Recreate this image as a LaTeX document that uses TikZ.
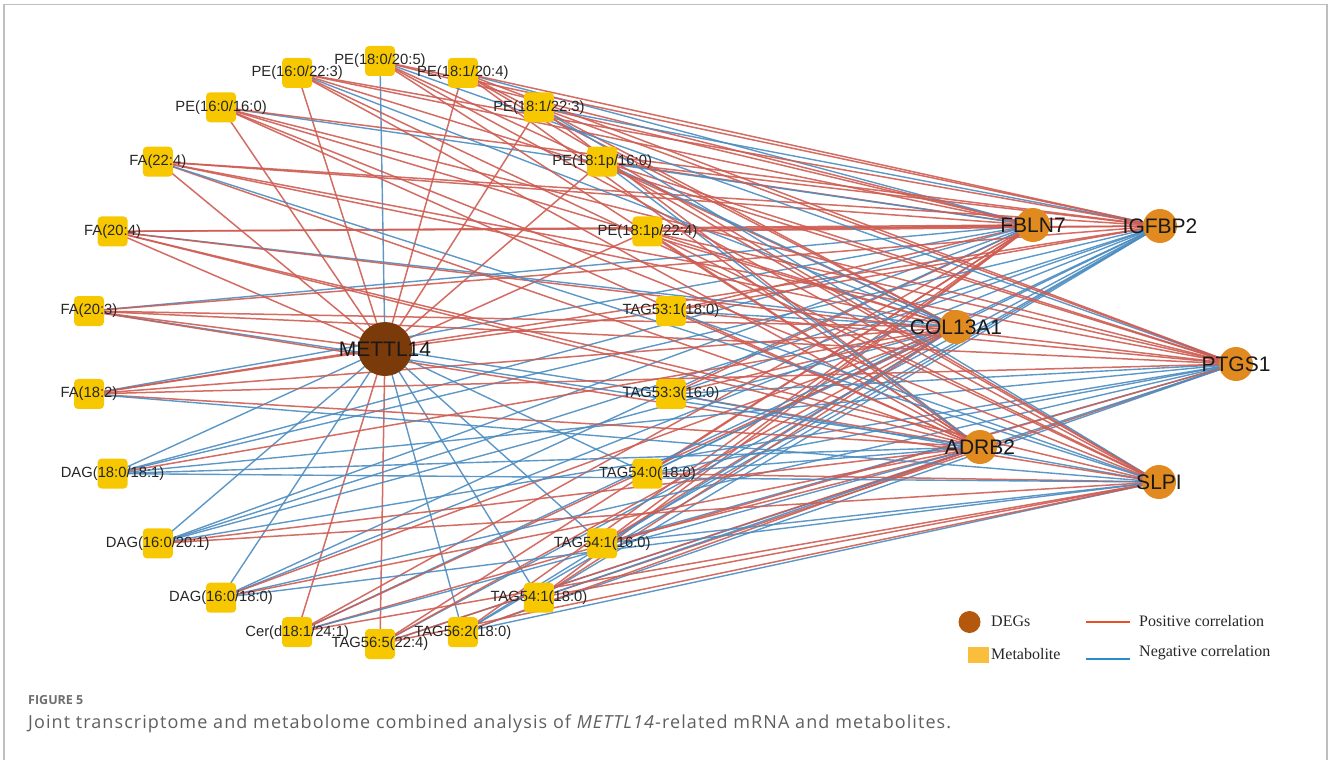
\documentclass[tikz,border=0pt]{standalone}
\usepackage{fontspec}
\newfontfamily\labfont{Liberation Sans}
\newfontfamily\legfont{Liberation Serif}
\newfontfamily\capfont[LetterSpace=6]{Open Sans}
\newfontfamily\figfont{Open Sans}
\usetikzlibrary{backgrounds}
\definecolor{metab}{RGB}{247,200,0}
\definecolor{gene}{RGB}{224,138,32}
\definecolor{hub}{RGB}{122,58,10}
\definecolor{posc}{RGB}{206,92,82}
\definecolor{negc}{RGB}{74,140,192}
\definecolor{legdeg}{RGB}{180,88,14}
\definecolor{legmet}{RGB}{250,190,60}
\definecolor{legpos}{RGB}{232,80,40}
\definecolor{legneg}{RGB}{40,138,200}
\definecolor{framec}{RGB}{190,190,190}
\definecolor{capc}{RGB}{95,95,95}
\definecolor{figc}{RGB}{110,110,110}
\begin{document}
\begin{tikzpicture}[x=1pt,y=-1pt,
 metnode/.style={fill=metab, draw=none, rounded corners=4pt, minimum size=30pt, inner sep=0pt},
 genenode/.style={circle, fill=gene, minimum size=34pt, inner sep=0pt},
 hubnode/.style={circle, fill=hub, minimum size=54pt, inner sep=0pt},
 metlab/.style={font=\labfont\fontsize{14.8}{16}\selectfont, text=black!85, inner sep=0pt},
 genelab/.style={font=\labfont\fontsize{21}{24}\selectfont, text=black!90, inner sep=0pt},
 lr/.style={draw=posc, line width=1.5pt, opacity=0.9},
 lb/.style={draw=negc, line width=1.4pt, opacity=0.9},
 legtext/.style={font=\legfont\fontsize{16}{18}\selectfont, text=black!85, inner sep=0pt, anchor=west},
]
\useasboundingbox (0,0) rectangle (1331,760);
% frame
\draw[framec, line width=1.5pt] (4,760) -- (4,4.5) -- (1327,4.5) -- (1327,760);

% metabolite positions on a ring
\foreach \k in {0,...,21}
  \coordinate (p\k) at ({380+294*sin(\k*360/22)},{352.5-291.5*cos(\k*360/22)});

\node[metnode, label={[metlab]center:{PE(18:0/20:5)}}] (m0) at (p0) {};
\node[metnode, label={[metlab]center:{PE(18:1/20:4)}}] (m1) at (p1) {};
\node[metnode, label={[metlab]center:{PE(18:1/22:3)}}] (m2) at (p2) {};
\node[metnode, label={[metlab]center:{PE(18:1p/16:0)}}] (m3) at (p3) {};
\node[metnode, label={[metlab]center:{PE(18:1p/22:4)}}] (m4) at (p4) {};
\node[metnode, label={[metlab]center:{TAG53:1(18:0)}}] (m5) at (p5) {};
\node[metnode, label={[metlab]center:{TAG53:3(16:0)}}] (m6) at (p6) {};
\node[metnode, label={[metlab]center:{TAG54:0(18:0)}}] (m7) at (p7) {};
\node[metnode, label={[metlab]center:{TAG54:1(16:0)}}] (m8) at (p8) {};
\node[metnode, label={[metlab]center:{TAG54:1(18:0)}}] (m9) at (p9) {};
\node[metnode, label={[metlab]center:{TAG56:2(18:0)}}] (m10) at (p10) {};
\node[metnode, label={[metlab]center:{TAG56:5(22:4)}}] (m11) at (p11) {};
\node[metnode, label={[metlab]center:{Cer(d18:1/24:1)}}] (m12) at (p12) {};
\node[metnode, label={[metlab]center:{DAG(16:0/18:0)}}] (m13) at (p13) {};
\node[metnode, label={[metlab]center:{DAG(16:0/20:1)}}] (m14) at (p14) {};
\node[metnode, label={[metlab]center:{DAG(18:0/18:1)}}] (m15) at (p15) {};
\node[metnode, label={[metlab]center:{FA(18:2)}}] (m16) at (p16) {};
\node[metnode, label={[metlab]center:{FA(20:3)}}] (m17) at (p17) {};
\node[metnode, label={[metlab]center:{FA(20:4)}}] (m18) at (p18) {};
\node[metnode, label={[metlab]center:{FA(22:4)}}] (m19) at (p19) {};
\node[metnode, label={[metlab]center:{PE(16:0/16:0)}}] (m20) at (p20) {};
\node[metnode, label={[metlab]center:{PE(16:0/22:3)}}] (m21) at (p21) {};

% genes
\node[hubnode, label={[genelab]center:METTL14}] (hb) at (385,349) {};
\node[genenode, label={[genelab]center:FBLN7}] (fb) at (1033,225) {};
\node[genenode, label={[genelab]center:IGFBP2}] (ig) at (1160,226) {};
\node[genenode, label={[genelab]center:COL13A1}] (co) at (956,327) {};
\node[genenode, label={[genelab]center:PTGS1}] (pt) at (1236,364) {};
\node[genenode, label={[genelab]center:ADRB2}] (ad) at (980,447) {};
\node[genenode, label={[genelab]center:SLPI}] (sl) at (1159,482) {};

% edges
\begin{pgfonlayer}{background}
\foreach \g/\lst in {
 hb/{lb,lr,lr,lr,lr,lr,lb,lb,lb,lb,lb,lr,lr,lb,lb,lb,lr,lr,lr,lr,lr,lr},
 fb/{lr,lb,lr,lr,lr,lr,lr,lr,lr,lr,lr,lr,lr,lb,lb,lb,lb,lb,lr,lr,lb,lr},
 ig/{lr,lr,lb,lr,lr,lr,lb,lb,lb,lb,lb,lb,lb,lb,lb,lb,lr,lr,lr,lr,lr,lr},
 co/{lr,lr,lr,lb,lr,lb,lr,lb,lr,lr,lb,lr,lr,lr,lb,lr,lr,lr,lb,lr,lr,lb},
 pt/{lb,lr,lr,lr,lr,lr,lb,lb,lb,lr,lb,lb,lr,lb,lb,lb,lr,lr,lr,lr,lr,lr},
 ad/{lr,lr,lr,lb,lr,lr,lr,lb,lr,lb,lr,lr,lb,lr,lr,lb,lr,lb,lr,lr,lr,lr},
 sl/{lr,lr,lb,lr,lr,lb,lb,lr,lb,lr,lb,lr,lr,lb,lr,lb,lb,lr,lr,lb,lr,lr}}
{
  \foreach \c [count=\k from 0] in \lst {
    \draw[\c] (m\k.center) -- (\g.center);
  }
}
\end{pgfonlayer}

% legend
\node[circle, fill=legdeg, minimum size=22pt, inner sep=0pt] (ldeg) at (969.5,622) {};
\node[legtext] (ldegt) at (991,621) {DEGs};
\node[fill=legmet, minimum width=21pt, minimum height=16pt, inner sep=0pt] (lmet) at (978.5,655) {};
\node[legtext] (lmett) at (991,654.5) {Metabolite};
\coordinate (lp1) at (1086,622);
\coordinate (lp2) at (1130,622);
\draw[legpos, line width=1.8pt] (lp1) -- (lp2);
\node[legtext] (lpt) at (1139,621) {Positive correlation};
\coordinate (ln1) at (1086,659);
\coordinate (ln2) at (1130,659);
\draw[legneg, line width=1.8pt] (ln1) -- (ln2);
\node[legtext] (lnt) at (1139,653) {Negative correlation};

% caption
\node[anchor=west, inner sep=0pt, font=\figfont\bfseries\fontsize{12.5}{14}\selectfont, text=figc] (fig) at (28,700) {FIGURE 5};
\node[anchor=west, inner sep=0pt, font=\capfont\fontsize{18}{20}\selectfont, text=capc] (capt) at (28,724) {Joint transcriptome and metabolome combined analysis of \textit{METTL14}-related mRNA and metabolites.};
\end{tikzpicture}
\end{document}
